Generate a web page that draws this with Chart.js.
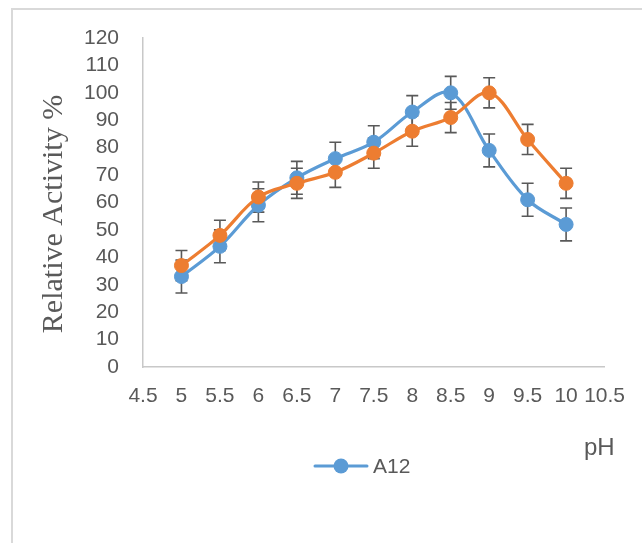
<!DOCTYPE html>
<html>
<head>
<meta charset="utf-8">
<script src="https://cdn.jsdelivr.net/npm/chart.js@4.4.0/dist/chart.umd.min.js"></script>
<style>
html,body{margin:0;padding:0;background:#ffffff;}
#wrap{width:642px;height:543px;position:relative;}
</style>
</head>
<body>
<div id="wrap"><canvas id="c" width="642" height="543"></canvas></div>
<script>
// ---- data ----
const phValues   = [5, 5.5, 6, 6.5, 7, 7.5, 8, 8.5, 9, 9.5, 10];
const seriesA12  = [33, 44, 59, 69, 76, 82, 93, 100, 79, 61, 52];
const seriesB    = [37, 48, 62, 67, 71, 78, 86, 91, 100, 83, 67];
const errorsA12  = [6, 6, 6, 6, 6, 6, 6, 6, 6, 6, 6];
const errorsB    = [5.5, 5.5, 5.5, 5.5, 5.5, 5.5, 5.5, 5.5, 5.5, 5.5, 5.5];
const xTicks     = [4.5, 5, 5.5, 6, 6.5, 7, 7.5, 8, 8.5, 9, 9.5, 10, 10.5];
const yTicks     = [0, 10, 20, 30, 40, 50, 60, 70, 80, 90, 100, 110, 120];
const seriesNames = ['A12', ''];
const xTitle = 'pH';
const yTitle = 'Relative Activity %';

const BLUE = '#5B9BD5', ORANGE = '#ED7D31', TEXT = '#595959';
const errorSets = [errorsA12, errorsB];

const toPoints = (vals) => phValues.map((x, i) => ({x: x, y: vals[i]}));

const frame = {
  id: 'frame',
  beforeDraw(chart) {
    const ctx = chart.ctx;
    ctx.save();
    ctx.fillStyle = '#ffffff';
    ctx.fillRect(0, 0, chart.width, chart.height);
    ctx.strokeStyle = '#D9D9D9';
    ctx.lineWidth = 2;
    ctx.strokeRect(12, 9, 1000, 1000);
    ctx.restore();
  }
};

const errBars = {
  id: 'errBars',
  beforeDatasetsDraw(chart) {
    const ctx = chart.ctx, xs = chart.scales.x, ys = chart.scales.y;
    ctx.save();
    ctx.strokeStyle = TEXT;
    ctx.lineWidth = 1.6;
    chart.data.datasets.forEach((ds, di) => {
      const errs = errorSets[di];
      ds.data.forEach((p, i) => {
        const x = xs.getPixelForValue(p.x);
        const yt = ys.getPixelForValue(p.y + errs[i]);
        const yb = ys.getPixelForValue(p.y - errs[i]);
        ctx.beginPath();
        ctx.moveTo(x, yt); ctx.lineTo(x, yb);
        ctx.moveTo(x - 6, yt); ctx.lineTo(x + 6, yt);
        ctx.moveTo(x - 6, yb); ctx.lineTo(x + 6, yb);
        ctx.stroke();
      });
    });
    ctx.restore();
  }
};

const extras = {
  id: 'extras',
  afterDraw(chart) {
    const ctx = chart.ctx;
    ctx.save();
    // y axis title
    ctx.fillStyle = TEXT;
    ctx.font = '30px "Liberation Serif", "DejaVu Serif", serif';
    ctx.translate(62, 214);
    ctx.rotate(-Math.PI / 2);
    ctx.textAlign = 'center';
    ctx.textBaseline = 'alphabetic';
    ctx.fillText(yTitle, 0, 0);
    ctx.restore();

    ctx.save();
    // x axis title
    ctx.fillStyle = TEXT;
    ctx.font = '24px "Liberation Sans", Arial, sans-serif';
    ctx.textAlign = 'left';
    ctx.textBaseline = 'alphabetic';
    ctx.fillText(xTitle, 584, 455);

    // legend (first series only)
    const ly = 466;
    ctx.strokeStyle = BLUE;
    ctx.lineWidth = 3;
    ctx.lineCap = 'round';
    ctx.beginPath();
    ctx.moveTo(315, ly); ctx.lineTo(367, ly);
    ctx.stroke();
    ctx.fillStyle = BLUE;
    ctx.beginPath();
    ctx.arc(341, ly, 7.5, 0, Math.PI * 2);
    ctx.fill();
    ctx.fillStyle = TEXT;
    ctx.font = '21px "Liberation Sans", Arial, sans-serif';
    ctx.textBaseline = 'middle';
    ctx.fillText(chart.data.datasets[0].label, 373, ly + 1);
    ctx.restore();
  }
};

new Chart(document.getElementById('c'), {
  type: 'line',
  data: {
    datasets: [
      {
        label: seriesNames[0],
        data: toPoints(seriesA12),
        borderColor: BLUE,
        backgroundColor: BLUE,
        borderWidth: 3.2,
        pointRadius: 7,
        pointBorderWidth: 1,
        pointBorderColor: BLUE,
        pointBackgroundColor: BLUE,
        tension: 0.35,
        fill: false,
        order: 1
      },
      {
        label: seriesNames[1],
        data: toPoints(seriesB),
        borderColor: ORANGE,
        backgroundColor: ORANGE,
        borderWidth: 3.2,
        pointRadius: 7,
        pointBorderWidth: 1,
        pointBorderColor: ORANGE,
        pointBackgroundColor: ORANGE,
        tension: 0.35,
        fill: false,
        order: 0
      }
    ]
  },
  options: {
    responsive: false,
    animation: false,
    devicePixelRatio: 1,
    layout: { padding: { top: 38, right: 36, bottom: 0, left: 0 } },
    plugins: {
      legend: { display: false },
      tooltip: { enabled: false },
      title: { display: false }
    },
    scales: {
      x: {
        type: 'linear',
        min: 4.5,
        max: 10.5,
        afterBuildTicks: (s) => { s.ticks = xTicks.map(v => ({value: v})); },
        afterFit: (s) => { s.height = 176; },
        grid: { display: false, drawTicks: false },
        border: { display: true, color: '#C8C8C8', width: 1.5 },
        ticks: {
          color: TEXT,
          padding: 17,
          maxRotation: 0,
          autoSkip: false,
          font: { family: '"Liberation Sans", Arial, sans-serif', size: 21 },
          callback: (v) => String(v)
        }
      },
      y: {
        type: 'linear',
        min: 0,
        max: 120,
        afterBuildTicks: (s) => { s.ticks = yTicks.map(v => ({value: v})); },
        afterFit: (s) => { s.width = 143; },
        grid: { display: false, drawTicks: false },
        border: { display: true, color: '#C8C8C8', width: 1.5 },
        ticks: {
          color: TEXT,
          padding: 24,
          autoSkip: false,
          font: { family: '"Liberation Sans", Arial, sans-serif', size: 21 },
          callback: (v) => String(v)
        }
      }
    }
  },
  plugins: [frame, errBars, extras]
});
</script>
</body>
</html>
